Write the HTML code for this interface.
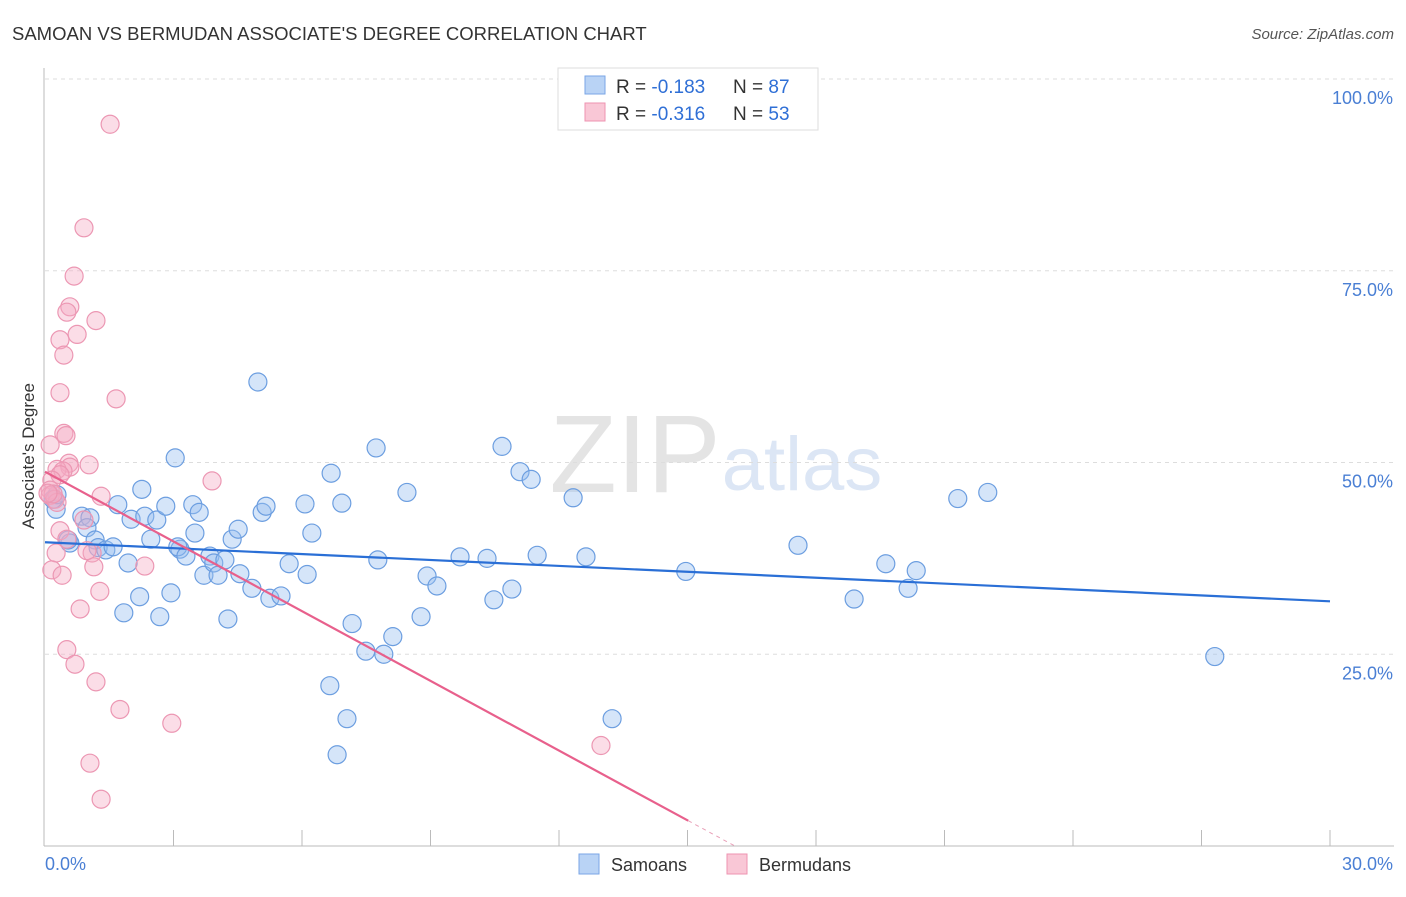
<!DOCTYPE html>
<html><head><meta charset="utf-8"><style>
body{margin:0;background:#fff;font-family:"Liberation Sans",sans-serif;}
svg text{font-family:"Liberation Sans",sans-serif;}
</style></head><body>
<svg id="chart" width="1406" height="892" xmlns="http://www.w3.org/2000/svg">
<text x="12" y="40" font-size="18.5" fill="#333">SAMOAN VS BERMUDAN ASSOCIATE'S DEGREE CORRELATION CHART</text>
<text x="1394" y="39" font-size="15" fill="#555" font-style="italic" text-anchor="end">Source: ZipAtlas.com</text>
<text x="635" y="492" font-size="110" fill="#e4e4e4" font-family="Liberation Serif" text-anchor="middle">ZIP</text>
<text x="802" y="490" font-size="76" fill="#dce6f5" text-anchor="middle">atlas</text>
<g id="grid"></g>
<g id="axes"></g>
<g id="pts"></g>
<g id="lines"></g>
<text transform="translate(34,456) rotate(-90)" font-size="17" fill="#333" text-anchor="middle">Associate's Degree</text>
<g>
<rect x="558" y="68" width="260" height="62" fill="#fff" stroke="#ddd"/>
<rect x="585" y="76" width="20" height="18" fill="#b9d3f5" stroke="#7aa6e6"/>
<rect x="585" y="103" width="20" height="18" fill="#f9c7d6" stroke="#ee93b0"/>
<text x="616" y="93" font-size="19" fill="#333">R = <tspan fill="#2f6fd6">-0.183</tspan></text>
<text x="733" y="93" font-size="19" fill="#333">N = <tspan fill="#2f6fd6">87</tspan></text>
<text x="616" y="120" font-size="19" fill="#333">R = <tspan fill="#2f6fd6">-0.316</tspan></text>
<text x="733" y="120" font-size="19" fill="#333">N = <tspan fill="#2f6fd6">53</tspan></text>
</g>
<g>
<rect x="579" y="854" width="20" height="20" fill="#b9d3f5" stroke="#7aa6e6"/>
<text x="611" y="871" font-size="18" fill="#333">Samoans</text>
<rect x="727" y="854" width="20" height="20" fill="#f9c7d6" stroke="#ee93b0"/>
<text x="759" y="871" font-size="18" fill="#333">Bermudans</text>
</g>
</svg>
<script>
const xTicks=[0,30];
const yTicks=[25,50,75,100];
const samoanX=[0.26,0.19,0.28,0.58,0.54,0.86,1.05,0.98,1.17,1.24,1.42,1.59,1.70,1.94,2.01,2.26,2.33,2.61,2.47,1.84,2.21,2.68,2.94,3.04,2.82,3.15,3.10,3.29,3.45,3.50,3.60,3.71,3.85,3.94,4.04,4.20,4.27,4.37,4.51,4.55,4.83,4.97,5.07,5.16,5.25,5.51,5.70,6.07,6.12,6.23,6.65,6.68,6.82,6.93,7.05,7.17,7.49,7.73,7.77,7.91,8.12,8.45,8.78,8.92,9.15,9.69,10.32,10.48,10.67,10.90,11.09,11.35,11.49,12.33,12.63,13.24,14.96,17.58,18.89,19.63,20.15,20.34,21.31,22.01,27.31];
const samoanY=[43.9,45.2,45.8,39.5,39.9,43.0,42.8,41.5,39.9,38.9,38.6,39.0,44.5,36.9,42.6,46.5,43.0,42.5,40.0,30.4,32.5,29.9,33.0,50.6,44.3,38.7,39.0,37.8,44.5,40.8,43.5,35.3,37.8,36.9,35.3,37.3,29.6,40.0,41.3,35.5,33.6,60.5,43.5,44.3,32.3,32.6,36.8,44.6,35.4,40.8,20.9,48.6,11.9,44.7,16.6,29.0,25.4,51.9,37.3,25.0,27.3,46.1,29.9,35.2,33.9,37.7,37.5,32.1,52.1,33.5,48.8,47.8,37.9,45.4,37.7,16.6,35.8,39.2,32.2,36.8,33.6,35.9,45.3,46.1,24.7];
const bermudanX=[1.52,0.91,0.68,0.58,0.51,1.19,0.75,0.35,0.44,0.35,1.66,0.44,0.49,0.12,1.03,0.56,0.58,0.28,0.42,0.35,0.16,0.12,1.31,3.90,0.12,0.23,0.28,0.19,0.91,0.35,0.26,1.10,0.98,1.14,2.33,0.16,0.40,1.28,0.82,0.51,0.70,1.19,1.75,2.96,1.05,1.31,12.98,0.51,0.07];
const bermudanY=[94.1,80.6,74.3,70.3,69.6,68.5,66.7,66.0,64.0,59.1,58.3,53.8,53.5,52.3,49.7,49.9,49.4,49.1,48.9,48.4,47.7,46.4,45.6,47.6,45.7,45.2,44.8,45.9,42.5,41.1,38.2,38.2,38.5,36.4,36.5,36.0,35.3,33.2,30.9,25.6,23.7,21.4,17.8,16.0,10.8,6.1,13.1,40.0,46.0];
const trendSamoan=[39.6,31.9];  // y at x=0 and x=30
const trendBermudan=[48.8,-42.1];
const NS="http://www.w3.org/2000/svg";
const X=v=>45+v/30*1285, Y=v=>846-v*7.67;
function el(t,a,p){const e=document.createElementNS(NS,t);for(const k in a)e.setAttribute(k,a[k]);document.getElementById(p).appendChild(e);return e;}
yTicks.forEach(t=>{
 const g=el('line',{x1:45,x2:1394,y1:Y(t),y2:Y(t),stroke:'#ddd','stroke-dasharray':'4,4'},'grid');
 
 
 const l=el('text',{x:1393,y:Y(t)+25,'font-size':18,fill:'#4a7fd4','text-anchor':'end'},'axes');
 l.textContent=t.toFixed(1)+'%';
 
 
});
const ax=el('line',{x1:44,x2:44,y1:68,y2:846,stroke:'#bbb'},'axes');


const bx=el('line',{x1:44,x2:1394,y1:846,y2:846,stroke:'#bbb'},'axes');


for(let i=1;i<=10;i++){const tk=el('line',{x1:X(i*3),x2:X(i*3),y1:830,y2:846,stroke:'#bbb'},'axes');
 
 }
xTicks.forEach(t=>{const l=el('text',{x:t==0?45:1393,y:870,'font-size':18,fill:'#4a7fd4','text-anchor':t==0?'start':'end'},'axes');
 l.textContent=t.toFixed(1)+'%';
 
 });
samoanX.forEach((x,i)=>{const c=el('circle',{cx:X(x),cy:Y(samoanY[i]),r:9,fill:'rgba(150,190,240,0.4)',stroke:'#6c9ee0','stroke-width':1.2},'pts');
 
 });
bermudanX.forEach((x,i)=>{const c=el('circle',{cx:X(x),cy:Y(bermudanY[i]),r:9,fill:'rgba(245,170,195,0.4)',stroke:'#ec97b3','stroke-width':1.2},'pts');
 
 });
const s=el('line',{x1:X(0),y1:Y(trendSamoan[0]),x2:X(30),y2:Y(trendSamoan[1]),stroke:'#2a6fd6','stroke-width':2.2},'lines');


const slope=(trendBermudan[1]-trendBermudan[0])/30;
const xe=(3.3-trendBermudan[0])/slope, x0=-trendBermudan[0]/slope;
const b=el('line',{x1:X(0),y1:Y(trendBermudan[0]),x2:X(xe),y2:Y(3.3),stroke:'#e8608c','stroke-width':2.2},'lines');


const bd=el('line',{x1:X(xe),y1:Y(3.3),x2:X(x0),y2:Y(0),stroke:'#e8a0b8','stroke-width':1,'stroke-dasharray':'4,4'},'lines');


</script>
</body></html>
